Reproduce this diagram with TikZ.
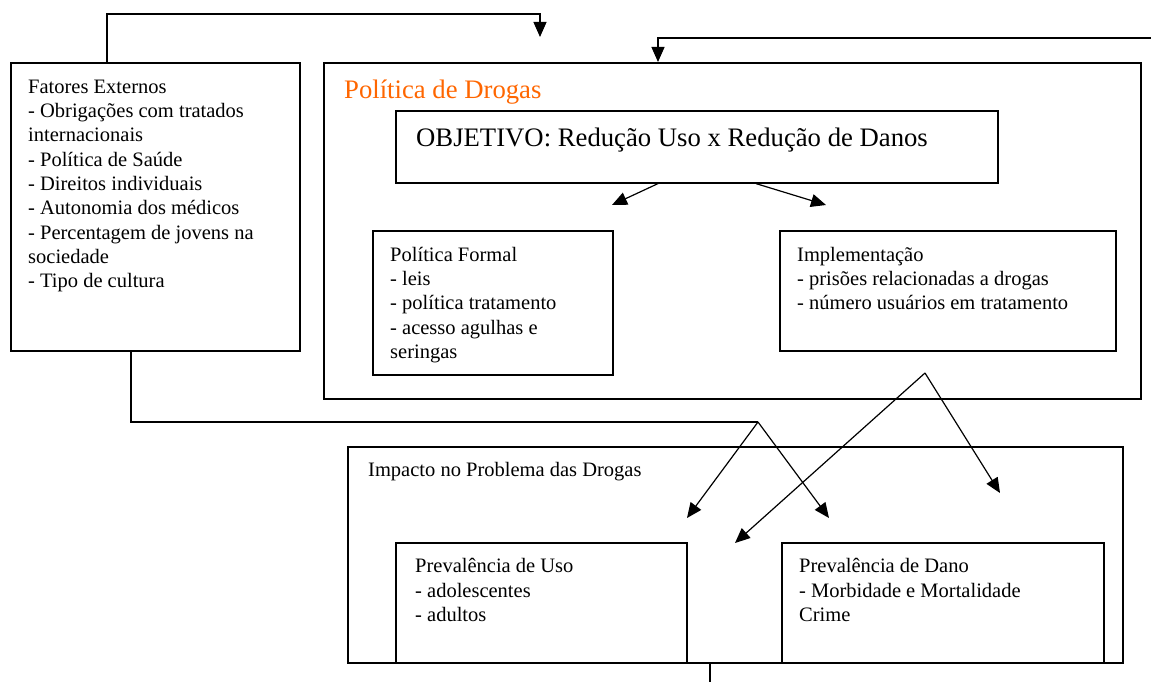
\documentclass[tikz,border=0pt]{standalone}
\usepackage{fontspec}
\setmainfont{Liberation Serif}
\usetikzlibrary{arrows.meta,calc,positioning}
\definecolor{drugorange}{RGB}{255,102,0}

\begin{document}
\begin{tikzpicture}[x=1pt,y=-1pt,
    box/.style={draw,line width=1.6pt,anchor=north west,inner sep=0pt},
    txt/.style={anchor=base west,inner sep=0pt,align=left,font=\fontsize{20.5}{24.3}\selectfont},
    big/.style={anchor=base west,inner sep=0pt,font=\fontsize{26.7}{32}\selectfont},
    arr/.style={line width=1.2pt,-{Triangle[length=15pt,width=13pt]}},
    lin/.style={line width=1.2pt}]
        \useasboundingbox (0,0) rectangle (1151,682);
        %Draw boxes
        \node[box,minimum width=289pt,minimum height=288pt] (fatores) at (10,62) {};
        \node[box,minimum width=817pt,minimum height=336pt] (politica) at (323,62) {};
        \node[box,minimum width=602pt,minimum height=72pt] (objetivo) at (395,110) {};
        \node[box,minimum width=240pt,minimum height=144pt] (formal) at (372,230) {};
        \node[box,minimum width=336pt,minimum height=120pt] (impl) at (779,230) {};
        \node[box,minimum width=775pt,minimum height=216pt] (impacto) at (347,446) {};
        \node[box,minimum width=291pt,minimum height=120pt] (uso) at (395,542) {};
        \node[box,minimum width=322pt,minimum height=120pt] (dano) at (781,542) {};
        %Draw labels (base = last line)
        \node[txt] (fatorestxt) at (28,287.7) {Fatores Externos\\- Obrigações com tratados\\internacionais\\- Política de Saúde\\- Direitos individuais\\- Autonomia dos médicos\\- Percentagem de jovens na\\sociedade\\- Tipo de cultura};
        \node[big,text=drugorange] (politicatxt) at (344,99) {Política de Drogas};
        \node[big] (objetivotxt) at (416,146.7) {OBJETIVO: Redução Uso x Redução de Danos};
        \node[txt] (formaltxt) at (390,358.5) {Política Formal\\- leis\\- política tratamento\\- acesso agulhas e\\seringas};
        \node[txt] (impltxt) at (797,309.9) {Implementação\\- prisões relacionadas a drogas\\- número usuários em tratamento};
        \node[txt] (impactotxt) at (368,476.7) {Impacto no Problema das Drogas};
        \node[txt] (usotxt) at (415,621.3) {Prevalência de Uso\\- adolescentes\\- adultos};
        \node[txt] (danotxt) at (799,621.3) {Prevalência de Dano\\- Morbidade e Mortalidade\\Crime};
        %Free ends
        \coordinate (fext) at (540,37);
        \coordinate (fback) at (1151,38);
        \coordinate (formaltip) at (612,205);
        \coordinate (impltip) at (826,205);
        \coordinate (split1) at (758,422);
        \coordinate (usotip) at (687,518);
        \coordinate (danotip) at (829,518);
        \coordinate (split2) at (925,373);
        \coordinate (danotip2) at (1000,493);
        \coordinate (usotip2) at (735,543);
        %Draw lines
        \draw[arr] ([xshift=97pt]fatores.north west) -- ++(0,-48) -| (fext);
        \draw[arr] (fback) -| ([xshift=335pt]politica.north west);
        \draw[arr] ([xshift=263pt]objetivo.south west) -- (formaltip);
        \draw[arr] ([xshift=361pt]objetivo.south west) -- (impltip);
        \draw[lin] ([xshift=121pt]fatores.south west) |- (split1);
        \draw[arr] (split1) -- (usotip);
        \draw[arr] (split1) -- (danotip);
        \draw[arr] (split2) -- (danotip2);
        \draw[arr] (split2) -- (usotip2);
        \draw[lin] ([xshift=363pt]impacto.south west) -- ++(0,20);
\end{tikzpicture}
\end{document}
